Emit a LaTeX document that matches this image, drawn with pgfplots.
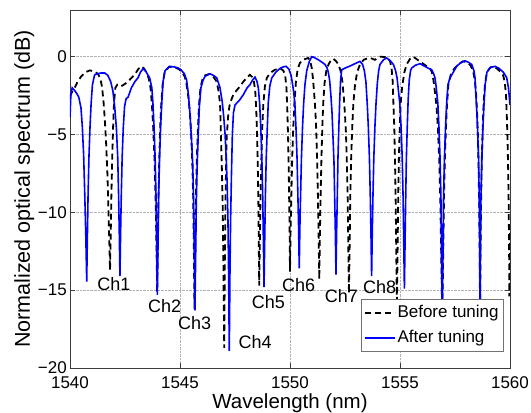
\documentclass[border=0pt]{standalone}
\usepackage{fontspec}
\setmainfont{Liberation Sans}
\usepackage{pgfplots}
\pgfplotsset{compat=1.18}
\definecolor{tuneblue}{RGB}{0,0,255}
\definecolor{framegray}{RGB}{60,60,60}

\begin{document}
\begin{tikzpicture}
\begin{axis}[
  scale only axis, width=440bp, height=358bp,
  xmin=1540, xmax=1560, ymin=-20, ymax=3,
  xtick={1540,1545,...,1560}, ytick={-20,-15,...,0},
  yticklabels={−20,−15,−10,−5,0},
  /pgf/number format/assume math mode=true,
  /pgf/number format/1000 sep={},
  tick label style={font=\fontsize{17bp}{20bp}\selectfont},
  xticklabel style={inner sep=0.5bp, yshift=-8bp},
  yticklabel style={inner sep=1bp, xshift=-2bp},
  tick align=inside, major tick length=5bp,
  grid=major, major grid style={densely dotted, black!30, line width=0.6bp},
  axis line style={framegray, line width=0.8bp},
  every tick/.style={framegray, line width=0.8bp},
  xlabel={Wavelength (nm)}, ylabel={Normalized optical spectrum (dB)},
  xlabel style={font=\fontsize{20.5bp}{24bp}\selectfont, inner sep=0pt,
    at={(axis description cs:0.5,0)}, anchor=base, yshift=-40bp},
  ylabel style={font=\fontsize{21.5bp}{25bp}\selectfont, inner sep=0pt,
    at={(axis description cs:-0.091,0.5)}, anchor=base},
  legend style={at={(0.986,0.045)}, anchor=south east, draw=black!55, fill=white,
    font=\fontsize{17bp}{20bp}\selectfont, inner xsep=3bp, inner ysep=3.75bp,
    row sep=5.5bp, nodes={inner sep=2bp, text height=12bp, text depth=3.5bp}},
  legend cell align=left,
  legend image code/.code={\draw[#1] (0bp,0bp) -- (30bp,0bp);},
]
% spectrum before tuning
\addplot[black, line width=1.8bp, dash pattern=on 6bp off 4bp] coordinates {
(1540.00,-2.55) (1540.10,-2.25) (1540.21,-2.0) (1540.35,-1.6) (1540.51,-1.26) (1540.70,-1.0) (1540.90,-0.88) (1541.10,-0.95) (1541.27,-1.1) (1541.38,-1.4) (1541.45,-1.9)
(1541.52,-2.8) (1541.58,-4.0) (1541.64,-5.5) (1541.70,-7.5) (1541.75,-10.0) (1541.79,-12.0) (1541.82,-13.7) (1541.85,-11.5) (1541.88,-9.0) (1541.92,-6.5) (1541.96,-4.5) (1542.00,-3.0) (1542.06,-2.0) (1542.15,-1.8)
(1542.33,-1.9) (1542.50,-1.75) (1542.64,-1.6) (1542.80,-1.35) (1542.94,-1.16) (1543.10,-0.8) (1543.24,-0.62) (1543.36,-0.75) (1543.47,-1.0) (1543.58,-1.4) (1543.66,-2.0)
(1543.72,-3.0) (1543.78,-4.5) (1543.84,-6.5) (1543.89,-9.0) (1543.93,-12.0) (1543.96,-15.1) (1543.99,-12.0) (1544.02,-9.0) (1544.06,-6.5) (1544.10,-4.5) (1544.15,-3.0) (1544.21,-1.8) (1544.30,-1.0)
(1544.50,-0.65) (1544.75,-0.68) (1544.95,-0.8) (1545.10,-1.0) (1545.22,-1.3) (1545.30,-1.8)
(1545.38,-2.6) (1545.45,-3.6) (1545.51,-5.0) (1545.56,-6.8) (1545.60,-9.0) (1545.63,-12.5) (1545.66,-16.2) (1545.69,-12.5) (1545.72,-9.0) (1545.76,-6.8) (1545.81,-4.8) (1545.86,-3.2) (1545.93,-2.0) (1546.03,-1.4)
(1546.14,-1.2) (1546.36,-1.1) (1546.52,-1.3) (1546.67,-1.6) (1546.75,-2.2) (1546.82,-3.0)
(1546.86,-5.0) (1546.90,-7.0) (1546.94,-9.5) (1546.97,-13.0) (1547.01,-18.7) (1547.04,-13.0) (1547.07,-9.0) (1547.12,-5.2) (1547.20,-3.6) (1547.27,-3.0)
(1547.42,-2.45) (1547.58,-2.15) (1547.73,-1.9) (1547.88,-1.6) (1548.03,-1.36) (1548.18,-1.16) (1548.28,-1.3) (1548.36,-1.6) (1548.42,-2.2)
(1548.46,-3.2) (1548.50,-4.8) (1548.53,-6.5) (1548.56,-9.0) (1548.58,-11.8) (1548.60,-14.7) (1548.63,-11.8) (1548.66,-9.0) (1548.70,-6.5) (1548.74,-4.5) (1548.79,-3.0) (1548.86,-1.9)
(1548.95,-1.35) (1549.10,-1.05) (1549.30,-0.85) (1549.55,-0.73) (1549.70,-0.9) (1549.78,-1.2) (1549.84,-2.0)
(1549.88,-3.5) (1549.91,-5.0) (1549.94,-7.0) (1549.96,-9.0) (1549.98,-11.0) (1550.00,-13.8) (1550.03,-11.0) (1550.06,-9.0) (1550.10,-6.5) (1550.15,-4.5) (1550.20,-3.0) (1550.27,-1.6) (1550.35,-0.8)
(1550.45,-0.4) (1550.59,-0.2) (1550.83,-0.08) (1550.92,-0.3) (1550.99,-0.73) (1551.05,-1.5) (1551.10,-2.4)
(1551.15,-3.4) (1551.19,-4.6) (1551.23,-6.5) (1551.27,-9.0) (1551.30,-11.4) (1551.33,-14.3) (1551.36,-11.4) (1551.39,-9.0) (1551.43,-6.5) (1551.47,-4.5) (1551.51,-3.0) (1551.57,-1.7) (1551.65,-0.9)
(1551.75,-0.5) (1551.85,-0.25) (1551.97,-0.13) (1552.10,-0.3) (1552.20,-0.5) (1552.30,-0.9) (1552.38,-1.6) (1552.44,-2.5)
(1552.49,-3.5) (1552.54,-4.8) (1552.58,-6.5) (1552.62,-9.0) (1552.65,-12.2) (1552.68,-15.2) (1552.71,-12.2) (1552.74,-9.0) (1552.78,-6.5) (1552.83,-4.5) (1552.88,-3.0) (1552.95,-1.9) (1553.05,-1.0) (1553.18,-0.5)
(1553.35,-0.2) (1553.56,-0.08) (1553.72,-0.12) (1553.86,-0.2) (1554.09,0.0) (1554.30,-0.02) (1554.45,-0.08) (1554.55,-0.3) (1554.62,-0.8) (1554.67,-1.6)
(1554.70,-3.0) (1554.74,-4.5) (1554.77,-6.5) (1554.80,-9.0) (1554.83,-12.5) (1554.86,-16.0) (1554.89,-12.5) (1554.92,-9.0) (1554.95,-6.5) (1554.99,-4.5) (1555.03,-3.0) (1555.10,-1.9) (1555.20,-1.0) (1555.30,-0.5)
(1555.45,-0.15) (1555.60,0.0) (1555.80,-0.2) (1556.00,-0.4) (1556.20,-0.6) (1556.36,-0.73) (1556.45,-1.0) (1556.52,-1.5) (1556.60,-2.4)
(1556.66,-3.2) (1556.72,-4.5) (1556.78,-6.5) (1556.83,-9.0) (1556.88,-13.2) (1556.92,-16.5) (1556.96,-13.2) (1557.00,-9.0) (1557.04,-6.5) (1557.09,-4.5) (1557.14,-3.0) (1557.20,-1.8) (1557.30,-1.2)
(1557.45,-0.8) (1557.65,-0.5) (1557.86,-0.3) (1558.05,-0.35) (1558.20,-0.55) (1558.32,-0.9) (1558.40,-1.5) (1558.46,-2.4)
(1558.50,-3.5) (1558.54,-5.0) (1558.57,-7.0) (1558.60,-9.5) (1558.62,-12.5) (1558.64,-17.0) (1558.66,-12.5) (1558.69,-9.0) (1558.72,-6.5) (1558.76,-4.5) (1558.80,-3.0) (1558.86,-1.8) (1558.95,-1.0)
(1559.10,-0.7) (1559.23,-0.62) (1559.40,-0.75) (1559.55,-0.95) (1559.68,-1.16) (1559.76,-1.6) (1559.82,-2.5)
(1559.86,-4.0) (1559.89,-5.5) (1559.92,-7.5) (1559.94,-9.5) (1559.96,-12.5) (1559.97,-15.4) (1559.99,-13.0) (1560.00,-11.0)
};
\addlegendentry{Before tuning}
% spectrum after tuning
\addplot[tuneblue, line width=1.6bp] coordinates {
(1540.00,-3.9) (1540.04,-2.4) (1540.10,-2.0) (1540.20,-2.15) (1540.30,-2.35) (1540.40,-2.6)
(1540.50,-3.3) (1540.56,-4.5) (1540.62,-6.3) (1540.67,-8.8) (1540.72,-11.6) (1540.76,-14.45) (1540.79,-11.6) (1540.82,-9.0) (1540.86,-6.5) (1540.91,-4.5) (1540.96,-3.0) (1541.02,-1.8) (1541.12,-1.16)
(1541.25,-1.1) (1541.40,-1.05) (1541.58,-1.05) (1541.72,-1.2) (1541.85,-1.6)
(1541.95,-2.2) (1542.03,-3.2) (1542.11,-4.6) (1542.17,-6.5) (1542.21,-9.0) (1542.24,-11.3) (1542.27,-14.1) (1542.30,-11.3) (1542.33,-9.0) (1542.37,-6.5) (1542.42,-4.6) (1542.48,-3.2)
(1542.55,-2.7) (1542.64,-2.6) (1542.79,-2.0) (1542.95,-1.6) (1543.09,-1.36) (1543.20,-1.0) (1543.32,-0.77) (1543.45,-0.95) (1543.62,-1.36) (1543.72,-2.0)
(1543.77,-3.0) (1543.82,-4.5) (1543.87,-6.5) (1543.91,-9.0) (1543.94,-12.2) (1543.97,-15.3) (1544.00,-12.2) (1544.03,-9.0) (1544.07,-6.5) (1544.12,-4.5) (1544.17,-3.0) (1544.23,-1.6)
(1544.32,-0.9) (1544.53,-0.62) (1544.75,-0.66) (1544.91,-0.72) (1545.05,-0.85) (1545.20,-1.1) (1545.30,-1.5) (1545.38,-2.4)
(1545.45,-3.6) (1545.53,-5.5) (1545.58,-7.0) (1545.62,-9.5) (1545.65,-13.0) (1545.68,-16.3) (1545.71,-13.0) (1545.74,-9.5) (1545.78,-7.0) (1545.83,-5.0) (1545.88,-3.2) (1545.95,-2.0) (1546.05,-1.5)
(1546.14,-1.26) (1546.36,-1.1) (1546.52,-1.2) (1546.67,-1.36) (1546.82,-2.0)
(1546.92,-2.9) (1546.99,-3.9) (1547.05,-5.0) (1547.10,-6.5) (1547.14,-8.0) (1547.18,-10.5) (1547.21,-14.0) (1547.24,-18.9) (1547.27,-14.0) (1547.30,-10.5) (1547.34,-7.5) (1547.38,-5.0) (1547.43,-3.6) (1547.50,-3.1) (1547.58,-2.98)
(1547.70,-2.8) (1547.88,-2.44) (1548.05,-2.0) (1548.18,-1.8) (1548.30,-1.5) (1548.41,-1.31) (1548.50,-1.6) (1548.56,-2.0)
(1548.62,-3.0) (1548.67,-4.5) (1548.72,-6.5) (1548.76,-9.0) (1548.79,-11.8) (1548.82,-14.8) (1548.85,-11.8) (1548.88,-9.0) (1548.92,-6.5) (1548.97,-4.5) (1549.01,-3.0) (1549.08,-1.9)
(1549.17,-1.37) (1549.35,-1.0) (1549.55,-0.75) (1549.70,-0.65) (1549.82,-0.62) (1549.95,-0.8) (1550.05,-1.2) (1550.12,-1.8)
(1550.17,-2.3) (1550.22,-3.0) (1550.27,-4.5) (1550.32,-6.5) (1550.36,-9.0) (1550.39,-10.9) (1550.42,-13.6) (1550.45,-10.9) (1550.48,-9.0) (1550.52,-6.5) (1550.57,-4.5) (1550.62,-3.0) (1550.68,-1.8) (1550.76,-0.9)
(1550.88,-0.3) (1550.99,0.0) (1551.10,-0.05) (1551.29,-0.2) (1551.45,-0.35) (1551.59,-0.5) (1551.68,-0.7) (1551.74,-1.0) (1551.80,-1.5)
(1551.86,-2.5) (1551.91,-3.6) (1551.95,-5.0) (1552.00,-6.8) (1552.03,-9.0) (1552.06,-11.2) (1552.09,-14.0) (1552.12,-11.2) (1552.15,-9.0) (1552.18,-6.5) (1552.22,-4.5) (1552.26,-2.8) (1552.30,-1.5) (1552.35,-0.84)
(1552.55,-0.7) (1552.73,-0.6) (1552.95,-0.45) (1553.18,-0.3) (1553.30,-0.5) (1553.38,-0.9) (1553.45,-1.6)
(1553.51,-3.0) (1553.56,-4.5) (1553.61,-6.5) (1553.65,-9.0) (1553.68,-11.3) (1553.71,-14.1) (1553.74,-11.3) (1553.77,-9.0) (1553.81,-6.5) (1553.86,-4.5) (1553.91,-3.0) (1553.97,-1.7) (1554.03,-0.9)
(1554.09,-0.5) (1554.25,-0.2) (1554.39,-0.08) (1554.55,-0.25) (1554.70,-0.5) (1554.80,-0.9) (1554.87,-1.4) (1554.93,-2.2)
(1554.99,-3.0) (1555.05,-4.5) (1555.10,-6.5) (1555.14,-9.0) (1555.17,-11.9) (1555.20,-14.9) (1555.23,-11.9) (1555.26,-9.0) (1555.29,-6.5) (1555.33,-4.5) (1555.37,-2.8) (1555.42,-1.5) (1555.48,-0.9)
(1555.53,-0.73) (1555.70,-0.55) (1555.91,-0.45) (1556.10,-0.6) (1556.30,-0.75) (1556.44,-0.84) (1556.53,-1.1) (1556.59,-1.36) (1556.65,-2.0)
(1556.72,-3.0) (1556.77,-4.5) (1556.82,-6.5) (1556.86,-9.0) (1556.89,-13.2) (1556.92,-16.5) (1556.95,-13.2) (1556.98,-9.0) (1557.02,-6.5) (1557.07,-4.5) (1557.12,-3.0) (1557.18,-1.8) (1557.27,-1.37)
(1557.42,-1.0) (1557.58,-0.6) (1557.75,-0.4) (1557.95,-0.26) (1558.10,-0.35) (1558.26,-0.5) (1558.36,-0.9) (1558.41,-1.37)
(1558.45,-2.5) (1558.49,-3.5) (1558.53,-4.8) (1558.57,-6.5) (1558.60,-9.0) (1558.62,-12.0) (1558.64,-17.0) (1558.66,-12.0) (1558.68,-9.0) (1558.72,-6.5) (1558.77,-4.5) (1558.82,-3.0) (1558.87,-1.8) (1558.95,-1.0)
(1559.10,-0.7) (1559.32,-0.62) (1559.50,-0.75) (1559.70,-1.0) (1559.85,-1.35) (1559.93,-2.0) (1560.00,-3.1)
};
\addlegendentry{After tuning}
% channel labels
\begin{scope}[every node/.style={font=\fontsize{18bp}{21bp}\selectfont, inner sep=0pt}]
\node at (axis cs:1541.99,-14.60) {Ch1};
\node at (axis cs:1544.30,-15.99) {Ch2};
\node at (axis cs:1545.66,-17.13) {Ch3};
\node at (axis cs:1548.41,-18.35) {Ch4};
\node at (axis cs:1549.02,-15.74) {Ch5};
\node at (axis cs:1550.39,-14.66) {Ch6};
\node at (axis cs:1552.34,-15.37) {Ch7};
\node at (axis cs:1554.07,-14.81) {Ch8};
\end{scope}
\end{axis}
\pgfresetboundingbox
\useasboundingbox ([xshift=-70bp,yshift=-45bp]current axis.south west) rectangle ([xshift=21bp,yshift=10bp]current axis.north east);
\end{tikzpicture}
\end{document}
